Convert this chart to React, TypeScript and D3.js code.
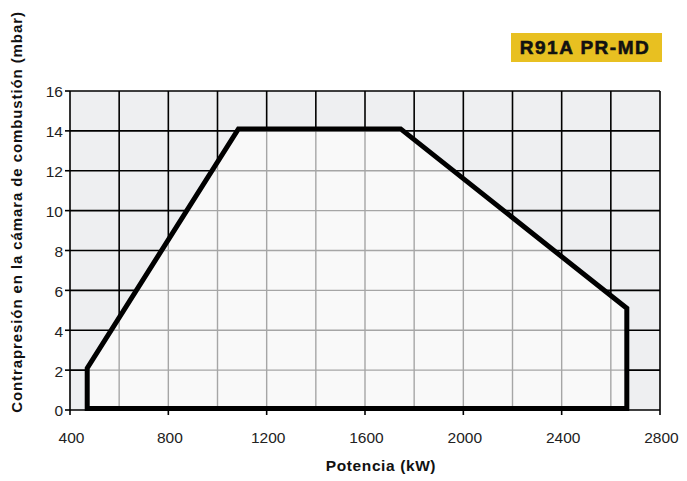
import React from "react";
import * as d3 from "d3";

const xTicks = [400, 800, 1200, 1600, 2000, 2400, 2800];
const yTicks = [0, 2, 4, 6, 8, 10, 12, 14, 16];
const xGrid = [400, 600, 800, 1000, 1200, 1400, 1600, 1800, 2000, 2200, 2400, 2600, 2800];
const envPower = [470, 470, 1085, 1745, 2665, 2665];
const envPressure = [0.08, 2.1, 14.1, 14.1, 5.1, 0.08];
const title = "R91A PR-MD";

export default function App() {
  const W = 687, H = 481;
  const x = d3.scaleLinear().domain([400, 2800]).range([70, 660]);
  const y = d3.scaleLinear().domain([0, 16]).range([410, 91]);
  const pts: [number, number][] = envPower.map((p, i) => [x(p), y(envPressure[i])]);
  const poly = d3.line()(pts) + "Z";
  const font = "'Liberation Sans', Arial, Helvetica, sans-serif";
  return (
    <svg width={W} height={H} style={{ position: "absolute", left: 0, top: 0 }} fontFamily={font}>
      <defs>
        <clipPath id="env"><path d={poly} /></clipPath>
      </defs>
      <rect x={x(400)} y={y(16)} width={x(2800) - x(400)} height={y(0) - y(16)} fill="#eeeff1" />
      {xGrid.map(v => (
        <line key={"xg" + v} x1={x(v)} x2={x(v)} y1={y(0)} y2={y(16)} stroke="#000" strokeWidth={1.6} />
      ))}
      {yTicks.map(v => (
        <line key={"yg" + v} x1={x(400)} x2={x(2800)} y1={y(v)} y2={y(v)} stroke="#000" strokeWidth={1.6} />
      ))}
      <path d={poly} fill="#f9f9f9" />
      <g clipPath="url(#env)">
        {xGrid.map(v => (
          <line key={"xgi" + v} x1={x(v)} x2={x(v)} y1={y(0)} y2={y(16)} stroke="#a6a6a6" strokeWidth={1.4} />
        ))}
        {yTicks.map(v => (
          <line key={"ygi" + v} x1={x(400)} x2={x(2800)} y1={y(v)} y2={y(v)} stroke="#a6a6a6" strokeWidth={1.4} />
        ))}
      </g>
      <path d={poly} fill="none" stroke="#000" strokeWidth={5} strokeLinejoin="miter" />
      {yTicks.map(v => (
        <g key={"yt" + v}>
          <line x1={x(400) - 5} x2={x(400)} y1={y(v)} y2={y(v)} stroke="#000" strokeWidth={1.6} />
          <text x={x(400) - 7} y={y(v) + 1} dy="0.35em" textAnchor="end" fontSize={15.5} fill="#222">{v}</text>
        </g>
      ))}
      {xTicks.map(v => (
        <g key={"xt" + v}>
          <line x1={x(v)} x2={x(v)} y1={y(0)} y2={y(0) + 5} stroke="#000" strokeWidth={1.6} />
          <text x={x(v) + 1.5} y={y(0) + 33} textAnchor="middle" fontSize={15.5} fill="#222">{v}</text>
        </g>
      ))}
      <text x={381} y={471} textAnchor="middle" fontSize={15.5} letterSpacing={0.6} fontWeight="bold" fill="#111">Potencia (kW)</text>
      <text transform={`translate(22,212) rotate(-90)`} textAnchor="middle" fontSize={15} letterSpacing={0.9} fontWeight="bold" fill="#111">
        Contrapresión en la cámara de combustión (mbar)
      </text>
      <rect x={511} y={33} width={151} height={29} fill="#e8c021" />
      <text x={585} y={54.3} textAnchor="middle" fontSize={19} letterSpacing={1.5} fontWeight="bold" stroke="#111" strokeWidth={0.6} fill="#111">{title}</text>
    </svg>
  );
}
